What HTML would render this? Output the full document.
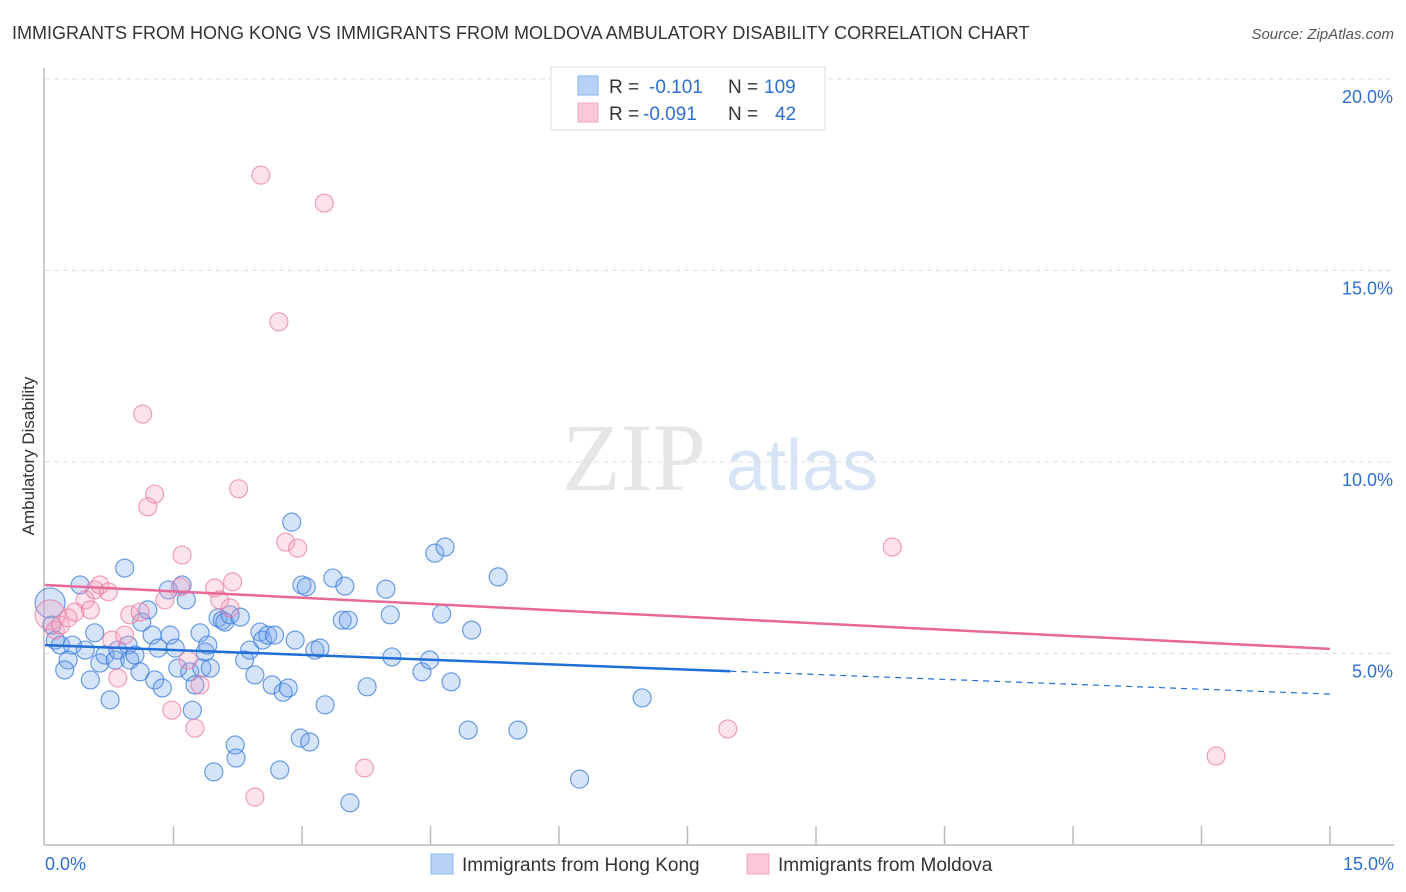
<!DOCTYPE html>
<html><head><meta charset="utf-8"><style>
body{margin:0;background:#fff;font-family:"Liberation Sans",sans-serif;}
#wrap{position:relative;width:1406px;height:892px;overflow:hidden;}
</style></head><body>
<div id="wrap">
<svg id="chart" width="1406" height="892" xmlns="http://www.w3.org/2000/svg">
<text x="12" y="39" font-size="18" fill="#333">IMMIGRANTS FROM HONG KONG VS IMMIGRANTS FROM MOLDOVA AMBULATORY DISABILITY CORRELATION CHART</text>
<text x="1394" y="39" font-size="15" fill="#555" text-anchor="end" font-style="italic">Source: ZipAtlas.com</text>
<text x="34" y="456" font-size="17" fill="#333" text-anchor="middle" transform="rotate(-90 34 456)">Ambulatory Disability</text>
<g>
<text x="634" y="490" font-size="96" fill="#e6e6e6" text-anchor="middle" font-family="Liberation Serif,serif">ZIP</text>
<text x="802" y="490" font-size="72" fill="#d6e4f5" text-anchor="middle">atlas</text>
</g>
<g id="grid"></g><g id="axes"></g><g id="pts"></g><g id="trends"></g>
<g>
<rect x="551" y="67" width="274" height="63" fill="#fff" stroke="#ddd"/>
<rect x="578" y="76" width="20" height="19" fill="#b8d3f5" stroke="#8ab4ea"/>
<rect x="578" y="103" width="20" height="19" fill="#fac8d8" stroke="#f2a6bf"/>
<text x="609" y="93" font-size="19" fill="#333">R = </text><text x="649" y="93" font-size="19" fill="#2f6fd0">-0.101</text>
<text x="728" y="93" font-size="19" fill="#333">N = </text><text x="764" y="93" font-size="19" fill="#2f6fd0">109</text>
<text x="609" y="120" font-size="19" fill="#333">R = </text><text x="643" y="120" font-size="19" fill="#2f6fd0">-0.091</text>
<text x="728" y="120" font-size="19" fill="#333">N = </text><text x="775" y="120" font-size="19" fill="#2f6fd0">42</text>
</g>
<g>
<rect x="431" y="854" width="22" height="20" fill="#b8d3f5" stroke="#8ab4ea"/>
<text x="462" y="871" font-size="19" fill="#333">Immigrants from Hong Kong</text>
<rect x="747" y="854" width="22" height="20" fill="#fac8d8" stroke="#f2a6bf"/>
<text x="778" y="871" font-size="19" fill="#333">Immigrants from Moldova</text>
</g>
</svg>
</div>
<script>
const blueX=[0.06,0.08,0.12,0.18,0.27,0.23,0.32,0.41,0.47,0.53,0.58,0.64,0.70,0.76,0.82,0.85,0.93,0.97,0.99,1.05,1.11,1.13,1.20,1.25,1.28,1.32,1.37,1.44,1.46,1.52,1.55,1.60,1.65,1.69,1.72,1.75,1.81,1.83,1.87,1.90,1.93,1.97,2.02,2.07,2.10,2.16,2.22,2.23,2.28,2.33,2.39,2.45,2.51,2.54,2.60,2.65,2.68,2.74,2.78,2.84,2.88,2.92,2.98,3.00,3.05,3.09,3.15,3.21,3.27,3.36,3.47,3.50,3.54,3.56,3.76,3.98,4.03,4.05,4.40,4.49,4.55,4.63,4.67,4.74,4.94,4.98,5.29,5.52,6.24,6.97];
const blueY=[6.32,5.74,5.35,5.22,4.83,4.57,5.22,6.79,5.09,4.31,5.54,4.75,4.96,3.79,4.83,5.09,7.23,5.22,4.83,4.96,4.52,5.82,6.14,5.48,4.31,5.14,4.10,6.66,5.48,5.14,4.62,6.79,6.40,4.52,3.52,4.18,5.54,4.62,5.04,5.22,4.62,1.91,5.93,5.87,5.82,6.01,2.61,2.27,5.95,4.83,5.09,4.44,5.56,5.35,5.48,4.18,5.48,1.96,3.99,4.10,8.43,5.35,2.79,6.79,6.74,2.69,5.09,5.14,3.66,6.97,5.87,6.76,5.87,1.10,4.13,6.68,6.01,4.91,4.52,4.83,7.62,6.03,7.78,4.26,3.00,5.61,7.00,3.00,1.72,3.84];
const pinkX=[0.06,0.12,0.18,0.27,0.35,0.47,0.53,0.58,0.64,0.74,0.78,0.85,0.93,0.99,1.11,1.14,1.20,1.28,1.40,1.48,1.58,1.60,1.67,1.75,1.81,1.98,2.04,2.16,2.19,2.26,2.45,2.52,2.73,2.81,2.95,3.26,3.73,7.97,9.89,13.67];
const pinkY=[6.01,5.61,5.74,5.93,6.08,6.40,6.14,6.66,6.79,6.61,5.35,4.36,5.48,6.01,6.08,11.25,8.83,9.16,6.40,3.52,6.74,7.57,4.83,3.05,4.18,6.71,6.40,6.19,6.87,9.30,1.25,17.49,13.66,7.91,7.75,16.76,2.01,3.03,7.78,2.32];
const blueTrend=[5.22,3.94];
const pinkTrend=[6.79,5.12];
const yTicks=[5,10,15,20];
const NS='http://www.w3.org/2000/svg';
const X0=45,X1=1330,Y0=845,Y20=79;
function sx(v){return X0+(X1-X0)*v/15;}
function sy(v){return Y0-(Y0-Y20)*v/20;}
function mk(tag,attrs,parent){const e=document.createElementNS(NS,tag);for(const k in attrs)e.setAttribute(k,attrs[k]);parent.appendChild(e);return e;}
const grid=document.getElementById('grid'),axes=document.getElementById('axes'),pts=document.getElementById('pts'),tr=document.getElementById('trends');
yTicks.forEach(t=>{
 const l=mk('line',{x1:X0,x2:1394,y1:sy(t),y2:sy(t),stroke:'#ddd','stroke-dasharray':'5,4'},grid);
 
 
 const tx=mk('text',{x:1393,y:sy(t)+24,'font-size':18,fill:'#2f6fd0','text-anchor':'end'},axes);
 tx.textContent=t.toFixed(1)+'%';
 
 
});
const ya=mk('line',{x1:X0-1,x2:X0-1,y1:68,y2:Y0,stroke:'#bbb','stroke-width':1.5},axes);


const xa=mk('line',{x1:X0-1,x2:1394,y1:Y0,y2:Y0,stroke:'#bbb','stroke-width':1.5},axes);


for(let i=1;i<=10;i++){const v=1.5*i;
 const tk=mk('line',{x1:sx(v),x2:sx(v),y1:826,y2:Y0,stroke:'#bbb','stroke-width':1.5},axes);
 
 }
[[0,'0.0%','start',X0],[15,'15.0%','end',1394]].forEach(a=>{
 const t=mk('text',{x:a[3],y:870,'font-size':18,fill:'#2f6fd0','text-anchor':a[2]},axes);
 t.textContent=a[1];
 
 });
function drawPts(xs,ys,fill,stroke,name){
 xs.forEach((x,i)=>{const r=(i===0)?15:9;
  const c=mk('circle',{cx:sx(x),cy:sy(ys[i]),r:r,fill:fill,stroke:stroke,'stroke-width':1.2},pts);
  
  });}
drawPts(blueX,blueY,'rgba(120,165,235,0.3)','rgba(60,125,220,0.75)','point-hong-kong');
drawPts(pinkX,pinkY,'rgba(245,160,190,0.3)','rgba(235,120,160,0.7)','point-moldova');
const bxEnd=8.0,bySolid=blueTrend[0]+(blueTrend[1]-blueTrend[0])*bxEnd/15;
let l1=mk('line',{x1:sx(0),y1:sy(blueTrend[0]),x2:sx(bxEnd),y2:sy(bySolid),stroke:'#1f6fd6','stroke-width':2.5},tr);


let l2=mk('line',{x1:sx(bxEnd),y1:sy(bySolid),x2:sx(15),y2:sy(blueTrend[1]),stroke:'#1f6fd6','stroke-width':1.2,'stroke-dasharray':'6,5'},tr);


let l3=mk('line',{x1:sx(0),y1:sy(pinkTrend[0]),x2:sx(15),y2:sy(pinkTrend[1]),stroke:'#e8689a','stroke-width':2.5},tr);


</script>
</body></html>
